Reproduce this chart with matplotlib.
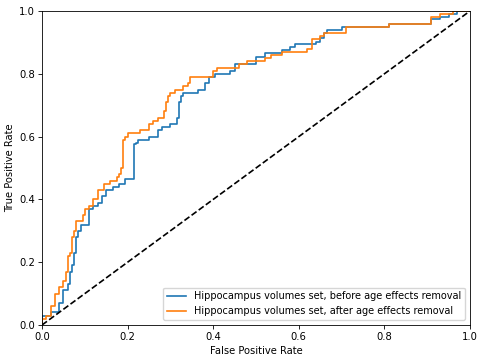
import matplotlib
matplotlib.use('Agg')
import matplotlib.pyplot as plt

# ROC 曲线 (阶梯点, 从图上读取)
fpr_before = [0.0, 0.0, 0.02, 0.02, 0.04, 0.04, 0.05, 0.05, 0.06, 0.06, 0.065, 0.065,
              0.07, 0.07, 0.075, 0.075, 0.08, 0.08, 0.085, 0.085, 0.09, 0.09, 0.11, 0.11,
              0.12, 0.12, 0.13, 0.13, 0.14, 0.14, 0.15, 0.15, 0.165, 0.165, 0.18, 0.18,
              0.195, 0.195, 0.215, 0.215, 0.22, 0.22, 0.225, 0.225, 0.25, 0.25, 0.27, 0.27,
              0.28, 0.28, 0.30, 0.30, 0.315, 0.315, 0.32, 0.32, 0.325, 0.325, 0.33, 0.33,
              0.365, 0.365, 0.38, 0.38, 0.39, 0.39, 0.405, 0.405, 0.44, 0.44, 0.45, 0.45,
              0.50, 0.50, 0.52, 0.52, 0.56, 0.56, 0.58, 0.58, 0.59, 0.59, 0.64, 0.64,
              0.65, 0.65, 0.66, 0.66, 0.665, 0.665, 0.70, 0.70, 0.81, 0.81, 0.91, 0.91,
              0.93, 0.93, 0.95, 0.95, 0.97, 0.97, 1.0]
tpr_before = [0.0, 0.03, 0.03, 0.04, 0.04, 0.07, 0.07, 0.11, 0.11, 0.13, 0.13, 0.17,
              0.17, 0.19, 0.19, 0.23, 0.23, 0.28, 0.28, 0.30, 0.30, 0.32, 0.32, 0.37,
              0.37, 0.38, 0.38, 0.39, 0.39, 0.41, 0.41, 0.43, 0.43, 0.44, 0.44, 0.45,
              0.45, 0.465, 0.465, 0.575, 0.575, 0.58, 0.58, 0.59, 0.59, 0.60, 0.60, 0.62,
              0.62, 0.63, 0.63, 0.64, 0.64, 0.66, 0.66, 0.71, 0.71, 0.73, 0.73, 0.74,
              0.74, 0.75, 0.75, 0.77, 0.77, 0.79, 0.79, 0.80, 0.80, 0.81, 0.81, 0.83,
              0.83, 0.855, 0.855, 0.865, 0.865, 0.875, 0.875, 0.885, 0.885, 0.895, 0.895, 0.90,
              0.90, 0.915, 0.915, 0.93, 0.93, 0.94, 0.94, 0.95, 0.95, 0.96, 0.96, 0.975,
              0.975, 0.98, 0.98, 0.99, 0.99, 1.0, 1.0]

fpr_after = [0.0, 0.0, 0.01, 0.01, 0.02, 0.02, 0.03, 0.03, 0.04, 0.04, 0.05, 0.05,
             0.055, 0.055, 0.06, 0.06, 0.065, 0.065, 0.07, 0.07, 0.075, 0.075, 0.08, 0.08,
             0.095, 0.095, 0.10, 0.10, 0.11, 0.11, 0.12, 0.12, 0.13, 0.13, 0.145, 0.145,
             0.16, 0.16, 0.175, 0.175, 0.18, 0.18, 0.185, 0.185, 0.19, 0.19, 0.195, 0.195,
             0.20, 0.20, 0.23, 0.23, 0.25, 0.25, 0.26, 0.26, 0.27, 0.27, 0.285, 0.285,
             0.29, 0.29, 0.295, 0.295, 0.30, 0.30, 0.31, 0.31, 0.33, 0.33, 0.34, 0.34,
             0.345, 0.345, 0.40, 0.40, 0.41, 0.41, 0.46, 0.46, 0.48, 0.48, 0.52, 0.52,
             0.535, 0.535, 0.56, 0.56, 0.62, 0.62, 0.63, 0.63, 0.65, 0.65, 0.66, 0.66,
             0.71, 0.71, 0.81, 0.81, 0.91, 0.91, 0.93, 0.93, 0.96, 0.96, 1.0]
tpr_after = [0.0, 0.02, 0.02, 0.03, 0.03, 0.06, 0.06, 0.10, 0.10, 0.12, 0.12, 0.14,
             0.14, 0.17, 0.17, 0.22, 0.22, 0.23, 0.23, 0.28, 0.28, 0.30, 0.30, 0.33,
             0.33, 0.35, 0.35, 0.37, 0.37, 0.38, 0.38, 0.40, 0.40, 0.43, 0.43, 0.45,
             0.45, 0.46, 0.46, 0.47, 0.47, 0.48, 0.48, 0.50, 0.50, 0.59, 0.59, 0.60,
             0.60, 0.61, 0.61, 0.62, 0.62, 0.64, 0.64, 0.65, 0.65, 0.66, 0.66, 0.68,
             0.68, 0.71, 0.71, 0.73, 0.73, 0.74, 0.74, 0.75, 0.75, 0.76, 0.76, 0.77,
             0.77, 0.79, 0.79, 0.81, 0.81, 0.82, 0.82, 0.83, 0.83, 0.84, 0.84, 0.85,
             0.85, 0.86, 0.86, 0.87, 0.87, 0.88, 0.88, 0.91, 0.91, 0.92, 0.92, 0.93,
             0.93, 0.95, 0.95, 0.96, 0.96, 0.98, 0.98, 0.99, 0.99, 1.0, 1.0]

labels = ['Hippocampus volumes set, before age effects removal',
          'Hippocampus volumes set, after age effects removal']

fs = 7.2
fig = plt.figure(figsize=(4.78, 3.59), dpi=100)
ax = fig.add_axes([42 / 478, 1 - 325 / 359, 428 / 478, 314 / 359])

ax.plot(fpr_before, tpr_before, color='#1f77b4', lw=1.2, label=labels[0])
ax.plot(fpr_after, tpr_after, color='#ff7f0e', lw=1.2, label=labels[1])
ax.plot([0, 1], [0, 1], 'k--', lw=1.2)

ax.set_xlim(0.0, 1.0)
ax.set_ylim(0.0, 1.0)
ax.set_xlabel('False Positive Rate', fontsize=fs, labelpad=3)
ax.set_ylabel('True Positive Rate', fontsize=fs, labelpad=3)
ax.tick_params(labelsize=fs, length=2.6, width=0.6, pad=2.6)
for s in ax.spines.values():
    s.set_linewidth(0.6)
ax.legend(loc='lower right', fontsize=7.0)

plt.savefig('out.png', dpi=100, facecolor='white')
plt.close()
